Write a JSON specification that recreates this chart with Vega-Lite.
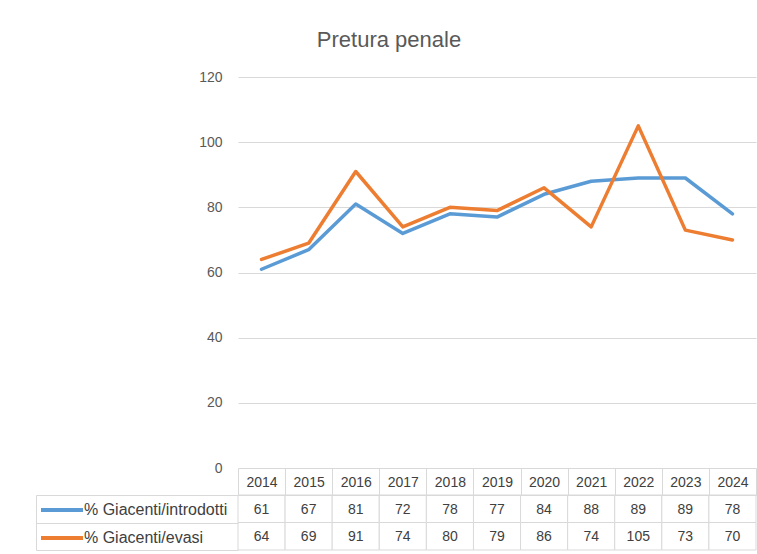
{
  "$schema": "https://vega.github.io/schema/vega-lite/v6.json",
  "background": "white",
  "padding": {"left": 35, "top": 29, "right": 2, "bottom": 4},
  "bounds": "flush",
  "spacing": 27,
  "title": {"text": "Pretura penale", "fontSize": 22, "font": "Liberation Sans", "fontWeight": "normal", "color": "#595959", "anchor": "middle", "offset": 18, "dx": -7},
  "config": {"font": "Liberation Sans", "view": {"stroke": null}},
  "resolve": {"scale": {"color": "independent"}, "legend": {"color": "independent"}},
  "datasets": {
    "rows": [
      {"year": "2014", "series": "% Giacenti/introdotti", "value": 61},
      {"year": "2015", "series": "% Giacenti/introdotti", "value": 67},
      {"year": "2016", "series": "% Giacenti/introdotti", "value": 81},
      {"year": "2017", "series": "% Giacenti/introdotti", "value": 72},
      {"year": "2018", "series": "% Giacenti/introdotti", "value": 78},
      {"year": "2019", "series": "% Giacenti/introdotti", "value": 77},
      {"year": "2020", "series": "% Giacenti/introdotti", "value": 84},
      {"year": "2021", "series": "% Giacenti/introdotti", "value": 88},
      {"year": "2022", "series": "% Giacenti/introdotti", "value": 89},
      {"year": "2023", "series": "% Giacenti/introdotti", "value": 89},
      {"year": "2024", "series": "% Giacenti/introdotti", "value": 78},
      {"year": "2014", "series": "% Giacenti/evasi", "value": 64},
      {"year": "2015", "series": "% Giacenti/evasi", "value": 69},
      {"year": "2016", "series": "% Giacenti/evasi", "value": 91},
      {"year": "2017", "series": "% Giacenti/evasi", "value": 74},
      {"year": "2018", "series": "% Giacenti/evasi", "value": 80},
      {"year": "2019", "series": "% Giacenti/evasi", "value": 79},
      {"year": "2020", "series": "% Giacenti/evasi", "value": 86},
      {"year": "2021", "series": "% Giacenti/evasi", "value": 74},
      {"year": "2022", "series": "% Giacenti/evasi", "value": 105},
      {"year": "2023", "series": "% Giacenti/evasi", "value": 73},
      {"year": "2024", "series": "% Giacenti/evasi", "value": 70}
    ]
  },
  "vconcat": [
    {
      "width": 518,
      "height": 391,
      "data": {"name": "rows"},
      "mark": {"type": "line", "strokeWidth": 3.5, "strokeJoin": "round", "strokeCap": "round"},
      "encoding": {
        "x": {"field": "year", "type": "ordinal", "scale": {"type": "point", "padding": 0.5}, "axis": null},
        "y": {"field": "value", "type": "quantitative", "scale": {"domain": [0, 120]},
          "axis": {"values": [0, 20, 40, 60, 80, 100, 120], "grid": true, "gridColor": "#d9d9d9", "domain": false, "ticks": false, "labelColor": "#595959", "labelFontSize": 14, "labelPadding": 16, "title": null}},
        "color": {"field": "series", "type": "nominal",
          "scale": {"domain": ["% Giacenti/introdotti", "% Giacenti/evasi"], "range": ["#5b9bd5", "#ed7d31"]},
          "legend": {"orient": "none", "legendX": -199, "legendY": 421, "title": null, "symbolType": "M-1,0H3.2", "symbolSize": 400, "symbolStrokeWidth": 4, "labelFontSize": 16, "labelColor": "#404040", "labelOffset": 21, "rowPadding": 8, "padding": 0}}
      }
    },
    {
      "width": 518,
      "height": 55,
      "data": {"name": "rows"},
      "encoding": {
        "x": {"field": "year", "type": "ordinal", "scale": {"type": "band", "paddingInner": 0, "paddingOuter": 0},
          "axis": {"orient": "top", "tickBand": "extent", "tickSize": 27, "tickColor": "#d9d9d9", "domainColor": "#d9d9d9", "labelAngle": 0, "labelFontSize": 14, "labelColor": "#404040", "labelBaseline": "middle", "labelPadding": -14, "title": null}},
        "y": {"field": "series", "type": "nominal", "scale": {"domain": ["% Giacenti/introdotti", "% Giacenti/evasi"], "paddingInner": 0, "paddingOuter": 0},
          "axis": {"orient": "left", "offset": 202, "tickBand": "extent", "tickSize": -202, "tickColor": "#d9d9d9", "domainColor": "#d9d9d9", "labels": false, "title": null}}
      },
      "layer": [
        {"mark": {"type": "rect", "fill": "white", "stroke": "#d9d9d9", "strokeWidth": 1}},
        {"mark": {"type": "text", "fontSize": 14, "color": "#404040", "dy": 1}, "encoding": {"text": {"field": "value", "type": "quantitative"}}}
      ]
    }
  ]
}
